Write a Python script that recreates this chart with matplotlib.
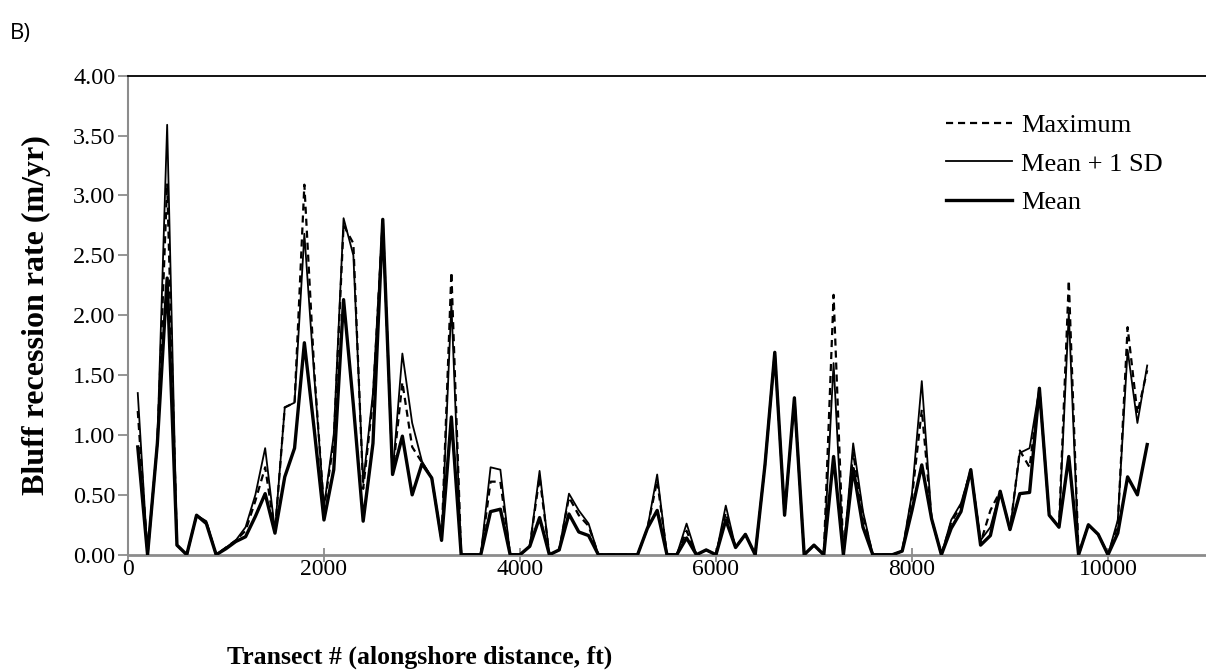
import matplotlib
matplotlib.use("Agg")
import matplotlib.pyplot as plt
import numpy as np

# transect positions (ft)
transect_ft = list(range(100, 10500, 100))

mean_rate = [0.90, 0.00, 0.93, 2.31, 0.08, 0.00, 0.33, 0.26, 0.00, 0.05,
             0.11, 0.15, 0.32, 0.51, 0.18, 0.65, 0.89, 1.77, 1.05, 0.29,
             0.71, 2.13, 1.25, 0.28, 0.93, 2.80, 0.67, 0.99, 0.50, 0.76,
             0.64, 0.12, 1.15, 0.00, 0.00, 0.00, 0.36, 0.38, 0.00, 0.00,
             0.07, 0.31, 0.00, 0.04, 0.34, 0.19, 0.16, 0.00, 0.00, 0.00,
             0.00, 0.00, 0.22, 0.37, 0.00, 0.00, 0.14, 0.00, 0.04, 0.00,
             0.29, 0.06, 0.17, 0.00, 0.75, 1.69, 0.33, 1.31, 0.00, 0.08,
             0.00, 0.82, 0.00, 0.72, 0.23, 0.00, 0.00, 0.00, 0.03, 0.37,
             0.75, 0.30, 0.00, 0.22, 0.36, 0.71, 0.08, 0.16, 0.53, 0.21,
             0.51, 0.52, 1.39, 0.33, 0.23, 0.82, 0.00, 0.25, 0.17, 0.00,
             0.18, 0.65, 0.50, 0.92]

mean_1sd = [1.35, 0.00, 0.95, 3.59, 0.08, 0.00, 0.33, 0.28, 0.00, 0.06,
            0.12, 0.23, 0.50, 0.89, 0.20, 1.23, 1.27, 2.68, 1.50, 0.40,
            1.00, 2.81, 2.50, 0.60, 1.35, 2.80, 0.67, 1.68, 1.10, 0.78,
            0.64, 0.12, 2.10, 0.00, 0.00, 0.00, 0.73, 0.71, 0.00, 0.00,
            0.07, 0.70, 0.00, 0.04, 0.51, 0.37, 0.26, 0.00, 0.00, 0.00,
            0.00, 0.00, 0.22, 0.67, 0.00, 0.00, 0.26, 0.00, 0.04, 0.00,
            0.41, 0.06, 0.17, 0.00, 0.75, 1.69, 0.33, 1.31, 0.00, 0.08,
            0.00, 1.60, 0.00, 0.93, 0.36, 0.00, 0.00, 0.00, 0.03, 0.51,
            1.45, 0.30, 0.00, 0.29, 0.43, 0.71, 0.12, 0.23, 0.53, 0.21,
            0.85, 0.89, 1.39, 0.33, 0.23, 2.02, 0.00, 0.25, 0.17, 0.00,
            0.29, 1.71, 1.10, 1.58]

max_rate = [1.20, 0.00, 0.93, 3.10, 0.08, 0.00, 0.33, 0.27, 0.00, 0.06,
            0.12, 0.20, 0.45, 0.73, 0.19, 1.23, 1.27, 3.09, 1.55, 0.38,
            0.95, 2.75, 2.60, 0.55, 1.30, 2.80, 0.67, 1.44, 0.90, 0.77,
            0.64, 0.12, 2.36, 0.00, 0.00, 0.00, 0.61, 0.61, 0.00, 0.00,
            0.07, 0.65, 0.00, 0.04, 0.48, 0.33, 0.24, 0.00, 0.00, 0.00,
            0.00, 0.00, 0.22, 0.62, 0.00, 0.00, 0.20, 0.00, 0.04, 0.00,
            0.35, 0.06, 0.17, 0.00, 0.75, 1.69, 0.33, 1.31, 0.00, 0.08,
            0.00, 2.17, 0.00, 0.85, 0.33, 0.00, 0.00, 0.00, 0.03, 0.48,
            1.21, 0.30, 0.00, 0.27, 0.41, 0.71, 0.10, 0.37, 0.53, 0.21,
            0.87, 0.73, 1.39, 0.33, 0.23, 2.29, 0.00, 0.25, 0.17, 0.00,
            0.25, 1.90, 1.18, 1.54]

y_ticks = [0.0, 0.5, 1.0, 1.5, 2.0, 2.5, 3.0, 3.5, 4.0]
x_ticks = [0, 2000, 4000, 6000, 8000, 10000]

serif = "Liberation Serif"

fig = plt.figure(figsize=(12.06, 6.71), dpi=100)
ax = fig.add_axes([0.1061, 0.1733, 0.8939, 0.7139])

ax.plot(transect_ft, max_rate, color="black", lw=1.6, ls=(0, (3.2, 2.2)),
        label="Maximum", zorder=4)
ax.plot(transect_ft, mean_1sd, color="black", lw=1.3, label="Mean + 1 SD", zorder=3)
ax.plot(transect_ft, mean_rate, color="black", lw=2.4, label="Mean", zorder=3)

ax.set_xlim(0, 11000)
ax.set_ylim(0, 4)
ax.set_xticks(x_ticks)
ax.set_yticks(y_ticks)
ax.set_yticklabels(["%.2f" % v for v in y_ticks], fontfamily=serif, fontsize=17.5)
ax.set_xticklabels([str(v) for v in x_ticks], fontfamily=serif, fontsize=17)

ax.spines["right"].set_visible(False)
ax.spines["top"].set_color("black")
ax.spines["top"].set_linewidth(1.3)
ax.spines["left"].set_color("#8c8c8c")
ax.spines["bottom"].set_color("#8c8c8c")
ax.spines["left"].set_linewidth(1.5)
ax.spines["bottom"].set_linewidth(2.0)
ax.tick_params(axis="y", direction="out", length=7, width=1.3, color="#8c8c8c", pad=2)
ax.tick_params(axis="x", direction="inout", length=10, width=1.3, color="#8c8c8c", pad=-2)

fig.text(0.03, 0.53, "Bluff recession rate (m/yr)", fontfamily=serif, fontsize=23,
         fontweight="bold", rotation=90, ha="center", va="center")
fig.text(0.348, 0.003, "Transect # (alongshore distance, ft)", fontfamily=serif,
         fontsize=18.5, fontweight="bold", ha="center", va="bottom")

fig.text(0.008, 0.95, "B)", fontfamily="Open Sans", fontsize=16, ha="left", va="center")

leg = ax.legend(loc="upper left", bbox_to_anchor=(0.737, 0.97), frameon=False,
                prop={"family": serif, "size": 19}, handlelength=2.5,
                handletextpad=0.35, labelspacing=0.56)

fig.savefig("out.png", dpi=100)
